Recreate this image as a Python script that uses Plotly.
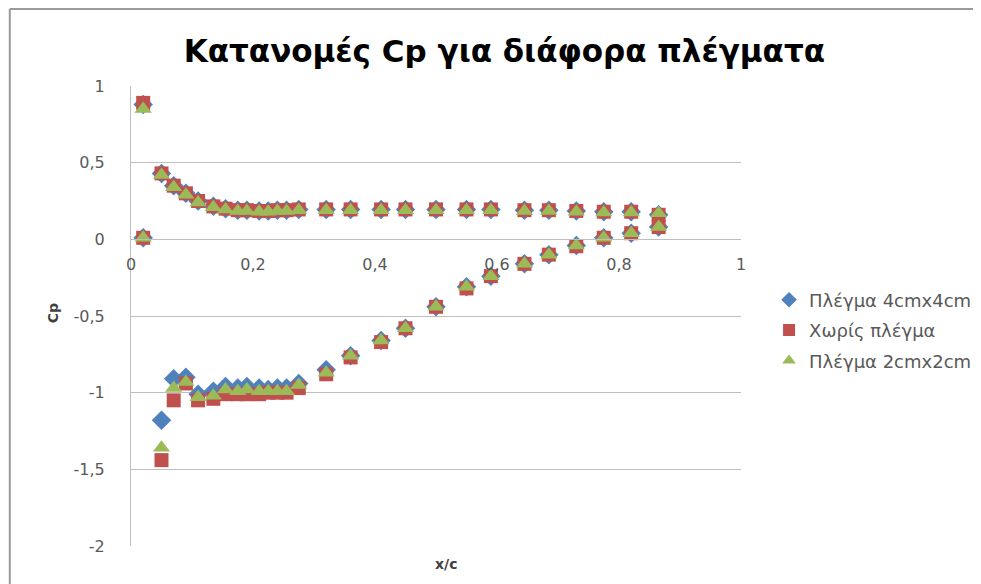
import plotly.graph_objects as go

# x/c positions (upper branch then lower branch share same stations)
x_stations = [0.02, 0.05, 0.07, 0.09, 0.11, 0.135, 0.155, 0.175, 0.19, 0.21, 0.225, 0.24, 0.255, 0.275,
              0.32, 0.36, 0.41, 0.45, 0.50, 0.55, 0.59, 0.645, 0.685, 0.73, 0.775, 0.82, 0.865]

# Upper branch Cp
cp_up_4cm = [0.88, 0.43, 0.35, 0.30, 0.25, 0.215, 0.20, 0.19, 0.19, 0.185, 0.185, 0.19, 0.19, 0.195,
             0.195, 0.195, 0.195, 0.195, 0.195, 0.195, 0.195, 0.19, 0.19, 0.185, 0.18, 0.18, 0.16]
cp_up_none = [0.89, 0.43, 0.35, 0.30, 0.25, 0.215, 0.20, 0.19, 0.19, 0.185, 0.185, 0.19, 0.19, 0.195,
              0.195, 0.195, 0.195, 0.195, 0.195, 0.195, 0.195, 0.19, 0.19, 0.185, 0.18, 0.18, 0.16]
cp_up_2cm = [0.85, 0.42, 0.34, 0.29, 0.24, 0.21, 0.195, 0.185, 0.185, 0.18, 0.18, 0.185, 0.185, 0.19,
             0.19, 0.19, 0.19, 0.19, 0.19, 0.19, 0.19, 0.185, 0.185, 0.18, 0.175, 0.175, 0.17]

# Lower branch Cp
cp_lo_4cm = [0.01, -1.18, -0.91, -0.90, -1.01, -0.99, -0.96, -0.97, -0.96, -0.97, -0.98, -0.97, -0.97, -0.94,
             -0.85, -0.76, -0.66, -0.58, -0.44, -0.31, -0.24, -0.16, -0.10, -0.04, 0.01, 0.04, 0.08]
cp_lo_none = [0.01, -1.44, -1.05, -0.94, -1.05, -1.04, -1.01, -1.01, -1.01, -1.01, -1.00, -1.00, -1.00, -0.97,
              -0.88, -0.77, -0.67, -0.58, -0.44, -0.32, -0.24, -0.16, -0.10, -0.045, 0.01, 0.04, 0.08]
cp_lo_2cm = [0.01, -1.36, -0.97, -0.93, -1.03, -1.02, -0.98, -0.99, -0.98, -0.99, -0.99, -0.99, -0.99, -0.95,
             -0.87, -0.76, -0.66, -0.58, -0.44, -0.31, -0.24, -0.16, -0.10, -0.04, 0.01, 0.04, 0.08]

series_names = ["Πλέγμα 4cmx4cm", "Χωρίς πλέγμα", "Πλέγμα 2cmx2cm"]
x_ticks = [0, 0.2, 0.4, 0.6, 0.8, 1]
x_ticktext = ["0", "0,2", "0,4", "0,6", "0,8", "1"]
y_ticks = [-2, -1.5, -1, -0.5, 0, 0.5, 1]
y_ticktext = ["-2", "-1,5", "-1", "-0,5", "0", "0,5", "1"]

colors = ["#4F81BD", "#C0504D", "#9BBB59"]
symbols = ["diamond", "square", "triangle-up"]
sizes = [15, 14, 15]
ups = [cp_up_4cm, cp_up_none, cp_up_2cm]
los = [cp_lo_4cm, cp_lo_none, cp_lo_2cm]

fig = go.Figure()
for i in range(3):
    fig.add_trace(go.Scatter(
        x=x_stations + x_stations,
        y=ups[i] + los[i],
        mode="markers",
        name=series_names[i],
        legendgroup=str(i),
        marker=dict(color=colors[i], symbol=symbols[i], size=sizes[i], line=dict(width=0)),
    ))

grid = "#BEBEBE"
tickfont = dict(family="DejaVu Sans", size=16, color="#595959")
fig.update_layout(
    width=981, height=584,
    paper_bgcolor="white", plot_bgcolor="white",
    margin=dict(l=123, r=244, t=78, b=46),
    title=dict(text="Κατανομές Cp για διάφορα πλέγματα", x=0.506, xanchor="center", xref="container",
               y=0.926, yanchor="middle",
               font=dict(family="DejaVu Sans", size=31, color="#000000", weight="bold")),
    showlegend=True,
    legend=dict(x=1.046, y=0.575, xanchor="left", yanchor="top",
                font=dict(family="DejaVu Sans", size=18, color="#595959"),
                tracegroupgap=4, itemsizing="constant", bgcolor="rgba(0,0,0,0)"),
    xaxis=dict(range=[0, 1], tickvals=x_ticks, ticktext=x_ticktext, showgrid=False, zeroline=False,
               showline=True, linecolor=grid, linewidth=1, anchor="free", position=2/3,
               ticks="", tickfont=tickfont, ticklabelstandoff=10),
    yaxis=dict(range=[-2, 1], tickvals=y_ticks, ticktext=y_ticktext, showgrid=True, gridcolor=grid, gridwidth=1,
               zeroline=False, showline=True, linecolor=grid, linewidth=1, ticks="", tickfont=tickfont,
               ticklabelstandoff=22),
    annotations=[
        dict(text="x/c", x=0.516, y=-0.04, xref="paper", yref="paper", showarrow=False,
             xanchor="center", yanchor="middle", font=dict(family="DejaVu Sans", size=14, color="#404040", weight="bold")),
        dict(text="Cp", x=-0.128, y=0.506, xref="paper", yref="paper", showarrow=False, textangle=-90,
             xanchor="center", yanchor="middle", font=dict(family="DejaVu Sans", size=14, color="#404040", weight="bold")),
    ],
    shapes=[
        dict(type="line", xref="paper", yref="paper", x0=-0.1987, x1=1.40, y0=1.1674, y1=1.1674,
             line=dict(color="#9A9A9A", width=2)),
        dict(type="line", xref="paper", yref="paper", x0=-0.1987, x1=-0.1987, y0=1.1674, y1=-0.10,
             line=dict(color="#9A9A9A", width=2)),
    ],
)
fig.write_html("out.html")
